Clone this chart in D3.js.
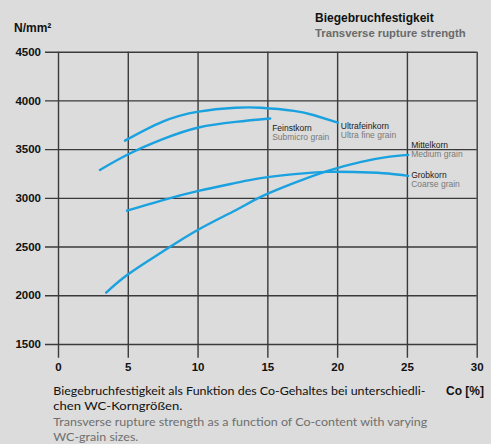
<!DOCTYPE html>
<html><head><meta charset="utf-8">
<script src="https://cdn.jsdelivr.net/npm/d3@7"></script>
<style>
html,body{margin:0;padding:0;background:#dbdcdb;}
svg{display:block;}
</style></head>
<body>
<svg id="chart" width="491" height="444"></svg>
<script>
// ---- data ----
const xTicks = [0, 5, 10, 15, 20, 25, 30];
const yTicks = [1500, 2000, 2500, 3000, 3500, 4000, 4500];

const ultraX = [4.8, 7.46, 10.07, 12.73, 14.53, 16.9, 18.35, 20.05];
const ultraY = [3587, 3780, 3885, 3925, 3925, 3893, 3848, 3773];

const feinX = [3.0, 5.0, 7.46, 10.07, 12.73, 15.2];
const feinY = [3286, 3445, 3600, 3722, 3780, 3814];

const mittelX = [3.45, 5.0, 7.46, 10.07, 12.73, 14.53, 16.93, 19.33, 21.73, 23.65, 25.09];
const mittelY = [2027, 2213, 2445, 2675, 2873, 3010, 3153, 3277, 3369, 3420, 3441];

const grobX = [4.94, 7.46, 10.07, 12.73, 14.53, 16.93, 19.33, 21.73, 23.65, 25.09];
const grobY = [2868, 2975, 3071, 3153, 3202, 3243, 3267, 3263, 3250, 3225];

const seriesNames = ["Feinstkorn", "Ultrafeinkorn", "Mittelkorn", "Grobkorn"];
const seriesNamesEn = ["Submicro grain", "Ultra fine grain", "Medium grain", "Coarse grain"];

const titleDe = "Biegebruchfestigkeit";
const titleEn = "Transverse rupture strength";
const yUnit = "N/mm²";
const xUnit = "Co [%]";
const captionDe = ["Biegebruchfestigkeit als Funktion des Co-Gehaltes bei unterschiedli-", "chen WC-Korngrößen."];
const captionEn = ["Transverse rupture strength as a function of Co-content with varying", "WC-grain sizes."];

// ---- drawing ----
const svg = d3.select("#chart");
const L = 58, R = 476.7, T = 51.7, B = 344;
const x = d3.scaleLinear().domain([0, 30]).range([L, R]);
const y = d3.scaleLinear().domain([1500, 4500]).range([B, T]);

const gridColor = "#3a3a3a";
const blue = "#19a1e0";
const tickFont = "'Liberation Sans', Arial, sans-serif";

// y axis (horizontal grid lines extending left)
const yAxis = svg.append("g")
  .attr("transform", `translate(${R},0)`)
  .call(d3.axisLeft(y).tickValues(yTicks).tickSize(R - 45).tickPadding(4).tickFormat(d3.format("d")));
yAxis.select(".domain").remove();
yAxis.selectAll(".tick line").attr("stroke", gridColor).attr("stroke-width", 1.4);
yAxis.selectAll(".tick text").attr("font-family", tickFont).attr("font-weight", "bold")
  .attr("font-size", "11.5px").attr("fill", "#111");

// x axis (vertical grid lines extending below)
const xAxis = svg.append("g")
  .attr("transform", `translate(0,${T})`)
  .call(d3.axisBottom(x).tickValues(xTicks).tickSize(357.7 - T).tickPadding(5).tickFormat(d3.format("d")));
xAxis.select(".domain").remove();
xAxis.selectAll(".tick line").attr("stroke", gridColor).attr("stroke-width", 1.4);
xAxis.selectAll(".tick text").attr("font-family", tickFont).attr("font-weight", "bold")
  .attr("font-size", "11.5px").attr("fill", "#111");

// curves
const line = d3.line().x(d => x(d[0])).y(d => y(d[1])).curve(d3.curveNatural);
const series = [
  d3.zip(feinX, feinY),
  d3.zip(ultraX, ultraY),
  d3.zip(mittelX, mittelY),
  d3.zip(grobX, grobY)
];
svg.append("g").selectAll("path").data(series).join("path")
  .attr("d", line)
  .attr("fill", "none")
  .attr("stroke", blue)
  .attr("stroke-width", 2.4)
  .attr("stroke-linecap", "round");

// series labels, anchored at each curve end
const labelOffsets = [[2, 12], [3, 6], [3, -7], [3, 2]];
const lbl = svg.append("g").attr("font-family", tickFont).attr("font-size", "8.5px");
series.forEach((s, i) => {
  const end = s[s.length - 1];
  const lx = x(end[0]) + labelOffsets[i][0];
  const ly = y(end[1]) + labelOffsets[i][1];
  lbl.append("text").attr("x", lx).attr("y", ly).attr("fill", "#1a1a1a").text(seriesNames[i]);
  lbl.append("text").attr("x", lx).attr("y", ly + 9.5).attr("fill", "#7a7a7a").text(seriesNamesEn[i]);
});

// titles
svg.append("text").attr("x", 315).attr("y", 22).attr("font-family", tickFont).attr("font-weight", "bold")
  .attr("font-size", "12px").attr("fill", "#111").text(titleDe);
svg.append("text").attr("x", 315).attr("y", 36.7).attr("font-family", tickFont).attr("font-weight", "bold")
  .attr("font-size", "11.3px").attr("fill", "#6a6a6a").text(titleEn);
svg.append("text").attr("x", 14).attr("y", 32).attr("font-family", tickFont).attr("font-weight", "bold")
  .attr("font-size", "12px").attr("fill", "#111").text(yUnit);
svg.append("text").attr("x", 484).attr("y", 394.5).attr("text-anchor", "end").attr("font-family", tickFont)
  .attr("font-weight", "bold").attr("font-size", "12px").attr("fill", "#111").text(xUnit);

// caption
const capFont = "Lato, 'Open Sans', sans-serif";
const capLines = [
  {t: captionDe[0], y: 394.5, c: "#111", w: 372},
  {t: captionDe[1], y: 410, c: "#111", w: 129},
  {t: captionEn[0], y: 425.5, c: "#6f6f6f", w: 374},
  {t: captionEn[1], y: 440.5, c: "#6f6f6f", w: 85}
];
svg.append("g").selectAll("text").data(capLines).join("text")
  .attr("x", 53.3).attr("y", d => d.y)
  .attr("font-family", capFont).attr("font-size", "12px")
  .attr("fill", d => d.c)
  .attr("textLength", d => d.w).attr("lengthAdjust", "spacingAndGlyphs")
  .text(d => d.t);
</script>
</body></html>
